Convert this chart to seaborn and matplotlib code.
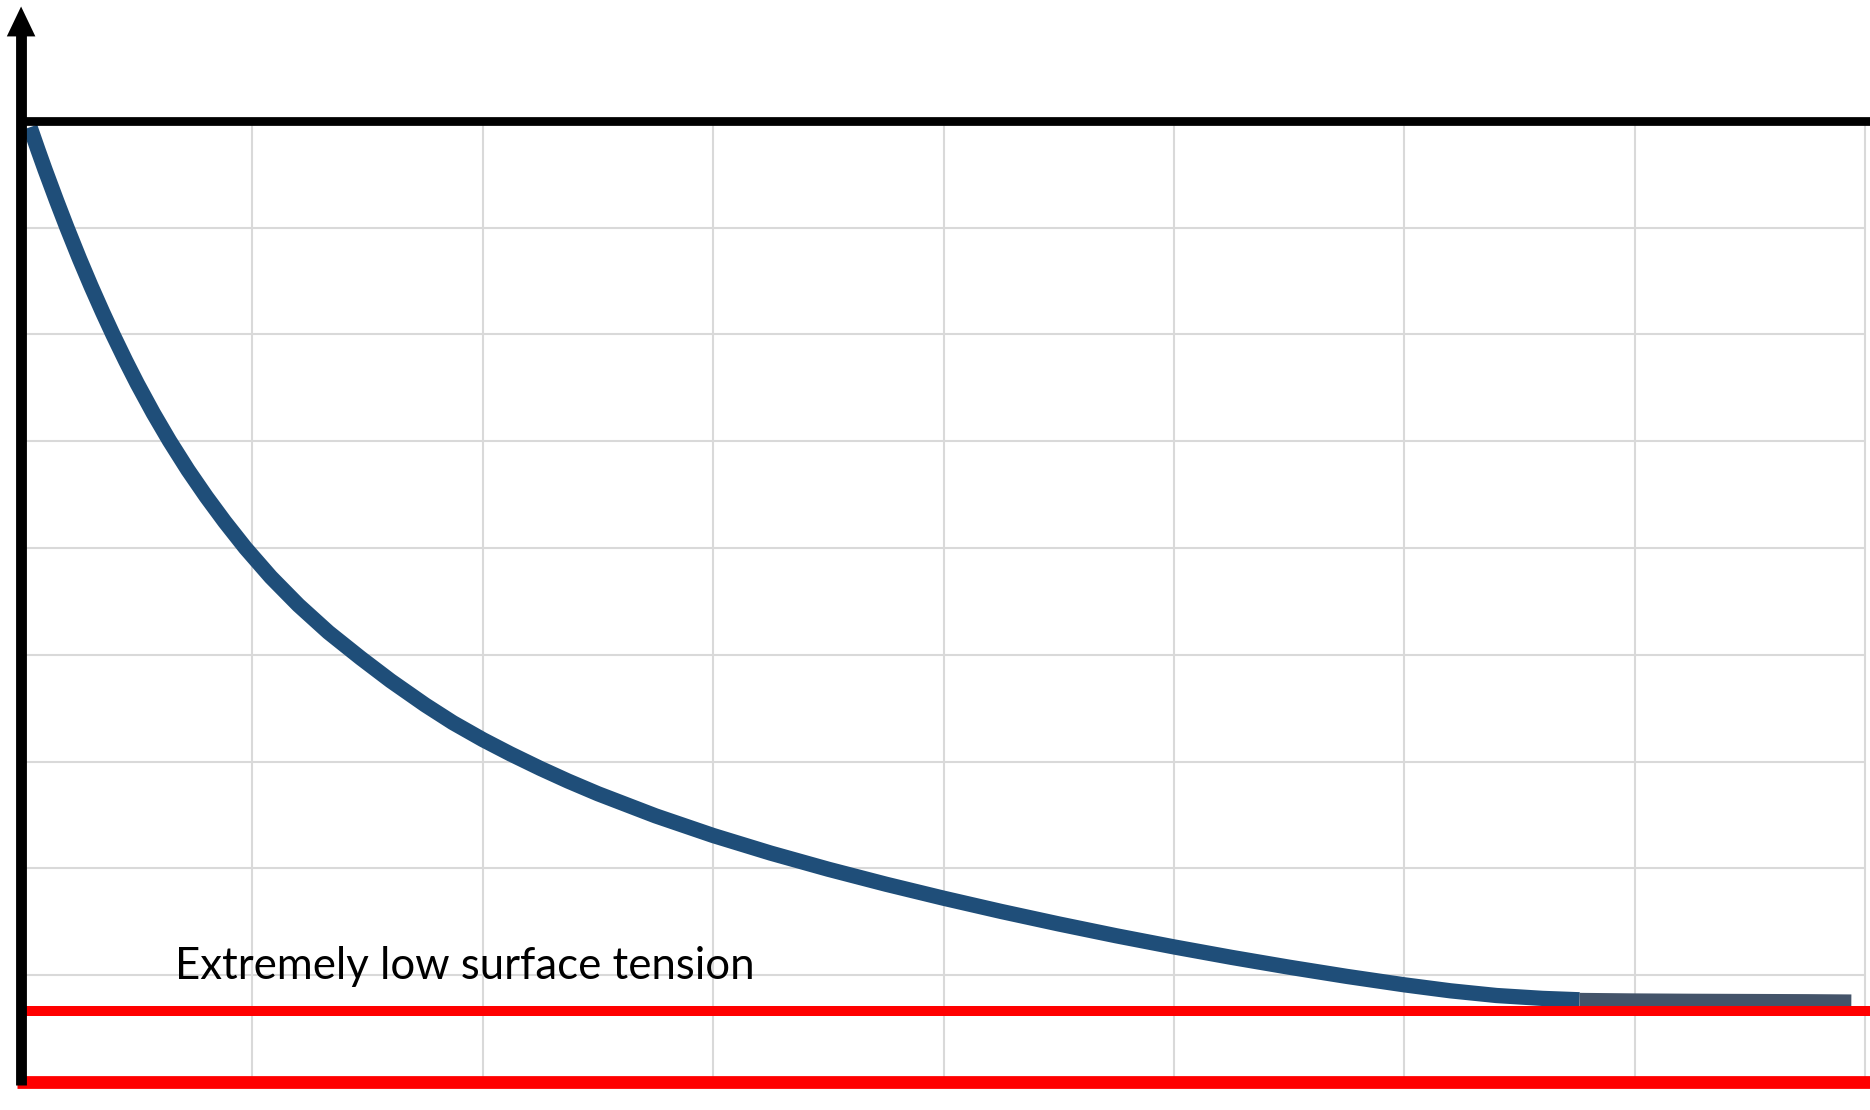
import numpy as np
import pandas as pd
import matplotlib
matplotlib.use("Agg")
import matplotlib.pyplot as plt
import seaborn as sns

# surface tension curve (grid units)
curve_x = [0.035, 0.07, 0.1, 0.15, 0.195, 0.25, 0.3, 0.35, 0.395, 0.45, 0.5, 0.57,
           0.64, 0.72, 0.8, 0.88, 0.97, 1.08, 1.2, 1.33, 1.47, 1.6, 1.75, 1.87,
           2.0, 2.12, 2.25, 2.37, 2.5, 2.75, 3.0, 3.25, 3.5, 3.75, 4.0, 4.25,
           4.5, 4.75, 5.0, 5.25, 5.5, 5.75, 6.0, 6.2, 6.4, 6.6, 6.76]
curve_y = [8.94, 8.723, 8.542, 8.252, 8.0, 7.705, 7.45, 7.207, 6.997, 6.752, 6.54, 6.262,
           6.004, 5.731, 5.48, 5.246, 5.0, 4.728, 4.465, 4.211, 3.97, 3.757, 3.531, 3.365,
           3.206, 3.072, 2.936, 2.818, 2.699, 2.492, 2.308, 2.143, 1.992, 1.852, 1.721, 1.597,
           1.48, 1.369, 1.265, 1.167, 1.075, 0.989, 0.91, 0.854, 0.81, 0.783, 0.770]
# flat grey-blue tail at the right
tail_x = [6.76, 7.0, 7.25, 7.5, 7.75, 7.94]
tail_y = [0.770, 0.765, 0.762, 0.760, 0.758, 0.755]

grid_x = [1, 2, 3, 4, 5, 6, 7, 8]
grid_y = [1, 2, 3, 4, 5, 6, 7, 8]
top_level = 9
low_tension_level = 0.665
label = "Extremely low surface tension"

sns.set_style("white")
plt.rcParams['font.family'] = ['Lato', 'DejaVu Sans']

fig = plt.figure(figsize=(18.7, 11.1), dpi=100)
ax = fig.add_axes([0, 0, 1, 1])
ax.set_xlim(-0.0955, 8.021)
ax.set_ylim(-0.262, 10.131)
ax.axis("off")

# light grid inside the box
ax.vlines(grid_x, 0, top_level, color="#d9d9d9", lw=1.5, zorder=1)
ax.hlines(grid_y, 0, 8, color="#d9d9d9", lw=1.5, zorder=1)

df = pd.DataFrame({"x": curve_x, "y": curve_y})
tail = pd.DataFrame({"x": tail_x, "y": tail_y})
sns.lineplot(data=df, x="x", y="y", ax=ax, color="#1f4e79", lw=11, sort=False,
             zorder=3, solid_capstyle="butt", solid_joinstyle="round")
sns.lineplot(data=tail, x="x", y="y", ax=ax, color="#44546a", lw=10, sort=False,
             zorder=3, solid_capstyle="butt", solid_joinstyle="round")

# red reference lines
ax.hlines(low_tension_level, -0.01, 8.1, color="#ff0000", lw=7.2, zorder=4)
ax.hlines(0, -0.02, 8.1, color="#ff0000", lw=9.2, zorder=4)

# black frame: top line and left axis with arrow
ax.hlines(top_level, 0, 8.1, color="black", lw=6.3, zorder=5)
ax.vlines(-0.005, -0.03, 9.85, color="black", lw=7.8, zorder=5)
ax.fill([-0.066, 0.058, -0.004], [9.79, 9.79, 10.07], color="black", zorder=5, lw=0)

ax.text(0.664, 0.964, label, fontsize=31.5, color="black", ha="left", va="baseline",
        zorder=6)

fig.savefig("out.png", dpi=100)
